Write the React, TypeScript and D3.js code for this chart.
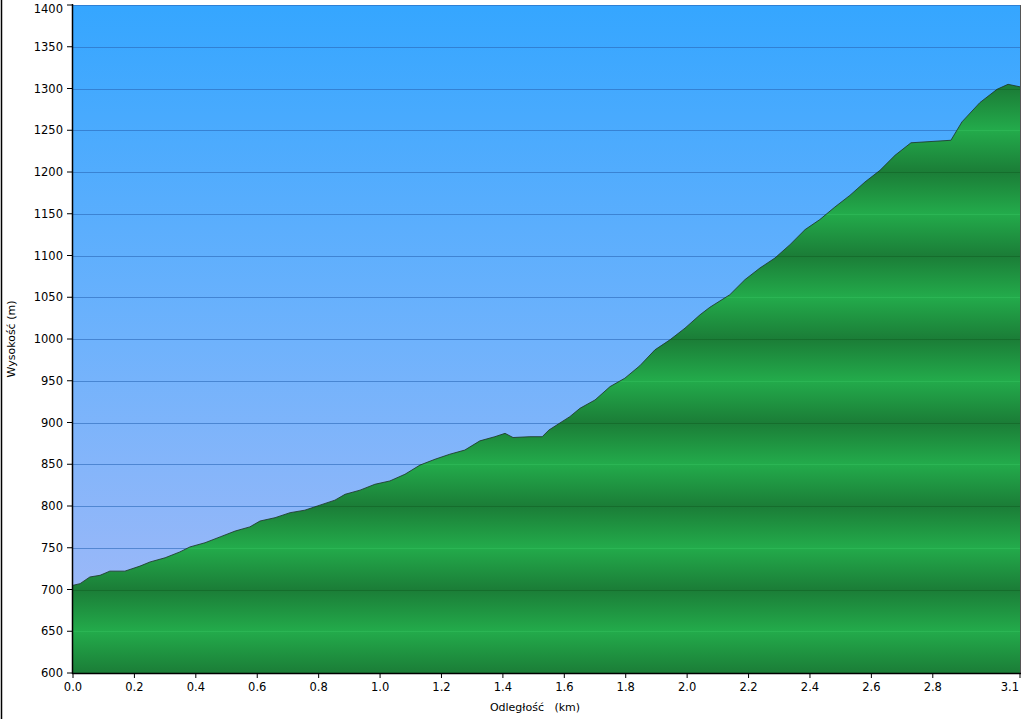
import React from "react";
import * as d3 from "d3";

const distanceKm = [0, 0.023, 0.055, 0.088, 0.12, 0.169, 0.218, 0.251, 0.3, 0.348, 0.381, 0.43, 0.479, 0.528, 0.576, 0.609, 0.658, 0.707, 0.755, 0.804, 0.853, 0.886, 0.935, 0.983, 1.032, 1.081, 1.13, 1.179, 1.227, 1.276, 1.325, 1.374, 1.407, 1.433, 1.488, 1.528, 1.55, 1.618, 1.651, 1.7, 1.749, 1.797, 1.846, 1.895, 1.944, 1.993, 2.042, 2.074, 2.139, 2.188, 2.237, 2.286, 2.335, 2.384, 2.432, 2.481, 2.53, 2.579, 2.628, 2.677, 2.729, 2.859, 2.895, 2.953, 3.009, 3.045, 3.084];
const elevationM = [705, 707, 715, 717, 722, 722, 728, 733, 738, 745, 751, 756, 763, 770, 775, 782, 786, 792, 795, 801, 807, 814, 819, 826, 830, 838, 849, 856, 862, 867, 878, 883, 887, 882, 883, 883, 891, 907, 917, 927, 943, 953, 968, 987, 999, 1013, 1029, 1038, 1053, 1071, 1085, 1097, 1113, 1131, 1143, 1158, 1172, 1188, 1202, 1220, 1235, 1238, 1260, 1283, 1299, 1305, 1302];
const xTicks = [0, 0.2, 0.4, 0.6, 0.8, 1.0, 1.2, 1.4, 1.6, 1.8, 2.0, 2.2, 2.4, 2.6, 2.8];
const xEndLabel = "3.1";
const yTicks = [600, 650, 700, 750, 800, 850, 900, 950, 1000, 1050, 1100, 1150, 1200, 1250, 1300, 1350, 1400];
const xTitle = "Odległość   (km)";
const yTitle = "Wysokość (m)";

export default function App() {
  const W = 1024, H = 719;
  const left = 73, right = 1020, top = 5, bottom = 673;
  const xMax = distanceKm[distanceKm.length - 1];
  const x = d3.scaleLinear().domain([0, xMax]).range([left, right]);
  const y = d3.scaleLinear().domain([600, 1400]).range([bottom, top]);
  const pts = distanceKm.map((d, i) => [d, elevationM[i]] as [number, number]);
  const area = d3.area<[number, number]>().x(d => x(d[0])).y0(bottom).y1(d => y(d[1]))(pts) || "";
  const line = d3.line<[number, number]>().x(d => x(d[0])).y(d => y(d[1]))(pts) || "";
  const font = "DejaVu Sans, Verdana, sans-serif";
  return (
    <svg width={W} height={H} style={{ position: "absolute", left: 0, top: 0, background: "#fff" }}>
      <defs>
        <linearGradient id="sky" x1="0" y1={top} x2="0" y2={bottom} gradientUnits="userSpaceOnUse">
          <stop offset="0" stopColor="#35a6ff" />
          <stop offset="0.5" stopColor="#6eb2fc" />
          <stop offset="1" stopColor="#a9baf7" />
        </linearGradient>
        <linearGradient id="ground" x1="0" y1={y(700)} x2="0" y2={y(600)} gradientUnits="userSpaceOnUse" spreadMethod="repeat">
          <stop offset="0" stopColor="#1b7d37" />
          <stop offset="0.5" stopColor="#23ab4b" />
          <stop offset="1" stopColor="#1b7d37" />
        </linearGradient>
        <clipPath id="areaClip"><path d={area} /></clipPath>
      </defs>
      <line x1={1.5} y1={0} x2={1.5} y2={H} stroke="#000" strokeWidth={1.5} />
      <rect x={left} y={top} width={right - left} height={bottom - top} fill="url(#sky)" />
      {yTicks.map(t => (
        <line key={"g" + t} x1={left} x2={right} y1={Math.round(y(t)) + 0.5} y2={Math.round(y(t)) + 0.5} stroke="#2a68b8" strokeOpacity={0.6} />
      ))}
      <path d={area} fill="url(#ground)" />
      <g clipPath="url(#areaClip)">
        {yTicks.map(t => (
          <line key={"gg" + t} x1={left} x2={right} y1={Math.round(y(t)) + 0.5} y2={Math.round(y(t)) + 0.5}
            stroke={t % 100 === 0 ? "#156b2b" : "#2cb655"} strokeOpacity={0.9} />
        ))}
      </g>
      <path d={line} fill="none" stroke="#1f3a2a" strokeWidth={1} strokeOpacity={0.85} />
      <line x1={right + 0.5} y1={top} x2={right + 0.5} y2={bottom} stroke="#555" strokeWidth={1} />
      <line x1={left - 0.5} y1={top - 1} x2={left - 0.5} y2={bottom + 1} stroke="#000" strokeWidth={1.5} />
      <line x1={left - 1} y1={bottom + 0.5} x2={right + 1} y2={bottom + 0.5} stroke="#000" strokeWidth={1.5} />
      {yTicks.map(t => (
        <g key={"yt" + t}>
          <line x1={left - 6} x2={left} y1={y(t)} y2={y(t)} stroke="#000" />
          <text x={left - 10} y={Math.max(y(t), 9)} dy="0.35em" textAnchor="end" fontFamily={font} fontSize={11.5} fill="#000">{t}</text>
        </g>
      ))}
      {xTicks.map(t => (
        <g key={"xt" + t}>
          <line x1={x(t)} x2={x(t)} y1={bottom} y2={bottom + 5} stroke="#000" />
          <text x={x(t)} y={bottom + 18} textAnchor="middle" fontFamily={font} fontSize={11.5} fill="#000">{t.toFixed(1)}</text>
        </g>
      ))}
      <line x1={x(xMax)} x2={x(xMax)} y1={bottom} y2={bottom + 5} stroke="#000" />
      <text x={x(xMax) - 1} y={bottom + 18} textAnchor="end" fontFamily={font} fontSize={11.5} fill="#000">{xEndLabel}</text>
      <text x={535} y={711} textAnchor="middle" fontFamily={font} fontSize={11} fill="#000" style={{ whiteSpace: "pre" }} xmlSpace="preserve">{xTitle}</text>
      <text transform={`translate(15,${(top + bottom) / 2}) rotate(-90)`} textAnchor="middle" fontFamily={font} fontSize={11} fill="#000">{yTitle}</text>
    </svg>
  );
}
